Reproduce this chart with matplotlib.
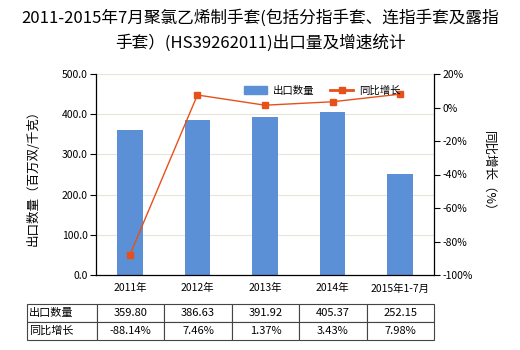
import matplotlib
matplotlib.use("Agg")
import matplotlib.pyplot as plt
from matplotlib.lines import Line2D
from matplotlib.patches import Patch

plt.rcParams['font.family'] = ['Noto Sans CJK SC', 'DejaVu Sans']

categories = ["2011年", "2012年", "2013年", "2014年", "2015年1-7月"]
export_qty = [359.80, 386.63, 391.92, 405.37, 252.15]
yoy_growth = [-88.14, 7.46, 1.37, 3.43, 7.98]
left_ticks = [0, 100, 200, 300, 400, 500]
right_ticks = [-100, -80, -60, -40, -20, 0, 20]

bar_color = "#5B8FD6"
line_color = "#E8501A"

fig = plt.figure(figsize=(5.2, 3.5), dpi=100)
ax = fig.add_axes([96 / 520, 1 - 275 / 350, 338 / 520, 201 / 350])

x = list(range(len(categories)))
ax.bar(x, export_qty, width=0.38, color=bar_color, zorder=2)
ax.set_xlim(-0.5, len(categories) - 0.5)
ax.set_ylim(0, 500)
ax.set_yticks(left_ticks)
ax.set_yticklabels([f"{v:.1f}" for v in left_ticks], fontsize=7.5)
ax.set_xticks(x)
ax.set_xticklabels(categories, fontsize=7.5)
ax.tick_params(axis='x', length=0, pad=6)
ax.tick_params(axis='y', length=4, width=0.8, pad=2)
ax.grid(axis='y', color="#E8E4D8", linewidth=0.8, zorder=0)
for s in ["top", "right"]:
    ax.spines[s].set_visible(False)
ax.spines["left"].set_linewidth(0.9)
ax.spines["bottom"].set_linewidth(0.9)
ax.set_ylabel("出口数量（百万双/千克）", fontsize=9, labelpad=16)

ax2 = ax.twinx()
ax2.plot(x, yoy_growth, color=line_color, linewidth=1.0, marker='s',
         markersize=4, zorder=3)
ax2.set_ylim(-100, 20)
ax2.set_yticks(right_ticks)
ax2.set_yticklabels([f"{v}%" for v in right_ticks], fontsize=7.5)
ax2.tick_params(axis='y', length=4, width=0.8, pad=2)
for s in ["top", "left", "bottom"]:
    ax2.spines[s].set_visible(False)
ax2.spines["right"].set_linewidth(0.9)
ax2.set_ylabel("同比增长（%）", fontsize=9, rotation=270, labelpad=16)

handles = [Patch(color=bar_color),
           Line2D([0], [0], color=line_color, linewidth=2, marker='s', markersize=4)]
ax2.legend(handles, ["出口数量", "同比增长"], loc="upper right",
           bbox_to_anchor=(0.93, 0.99), ncol=2, frameon=False, fontsize=7.5,
           handlelength=2.2, columnspacing=1.5, handletextpad=0.6)

fig.text(0.5, 1 - 18 / 350, "2011-2015年7月聚氯乙烯制手套(包括分指手套、连指手套及露指",
         ha="center", va="center", fontsize=12)
fig.text(0.5, 1 - 43 / 350, "手套）(HS39262011)出口量及增速统计",
         ha="center", va="center", fontsize=12)

cell_text = [["出口数量"] + [f"{v:.2f}" for v in export_qty],
             ["同比增长"] + [f"{v:.2f}%" for v in yoy_growth]]
label_w = 70 / 407
col_w = (1 - label_w) / len(categories)
tbl = ax.table(cellText=cell_text,
               colWidths=[label_w] + [col_w] * len(categories),
               bbox=[-69 / 338, -65 / 201, 407 / 338, 36 / 201],
               cellLoc="center")
tbl.auto_set_font_size(False)
tbl.set_fontsize(8)
for (r, c), cell in tbl.get_celld().items():
    cell.set_edgecolor("#444444")
    cell.set_linewidth(0.8)
    if c == 0:
        cell.get_text().set_ha("left")
        cell.PAD = 0.03

fig.savefig("out.png", dpi=100)
